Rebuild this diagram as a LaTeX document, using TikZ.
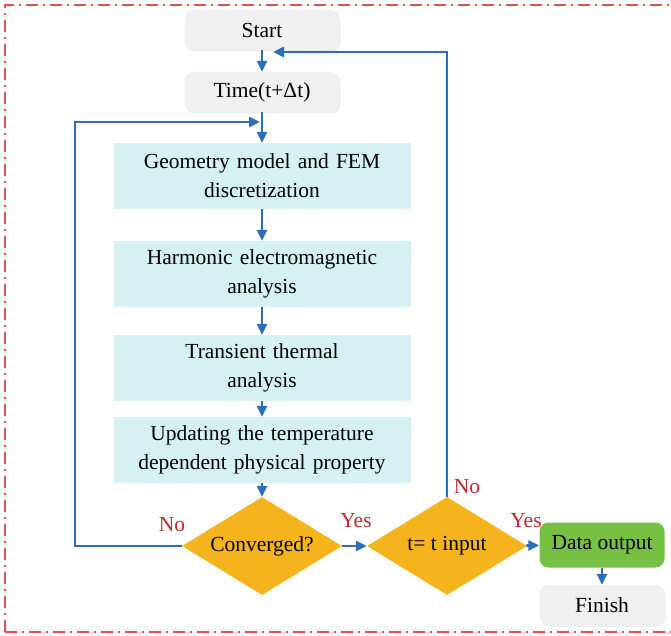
\documentclass[tikz,border=0pt]{standalone}
\usepackage{fontspec}
\setmainfont{Liberation Serif}
\usetikzlibrary{shapes.geometric,arrows.meta,shadows}
\definecolor{lineblue}{HTML}{2A6EBB}
\definecolor{boxcyan}{HTML}{D6F1F1}
\definecolor{termgray}{HTML}{F0F0F0}
\definecolor{diagold}{HTML}{F5B41E}
\definecolor{outgreen}{HTML}{78C043}
\definecolor{labred}{HTML}{C0282D}
\definecolor{frame}{HTML}{E85050}
\begin{document}
\begin{tikzpicture}[x=1pt,y=-1pt,
  every node/.style={font=\fontsize{21.5}{29}\selectfont},
  term/.style={rounded corners=9pt,fill=termgray,minimum width=155pt,minimum height=40pt,inner sep=0pt,drop shadow={opacity=0.15,shadow xshift=1pt,shadow yshift=-1.5pt}},
  proc/.style={fill=boxcyan,minimum width=297pt,minimum height=66pt,inner sep=0pt,align=center,text width=295pt},
  dec/.style={diamond,fill=diagold,minimum width=160pt,minimum height=98pt,inner sep=0pt,aspect=1.63},
  outbox/.style={rounded corners=9pt,fill=outgreen,minimum width=125pt,minimum height=45pt,inner sep=0pt},
  conn/.style={draw=lineblue,line width=2.8pt,-{Triangle[length=11pt,width=10pt]}},
  lab/.style={text=labred}]
\useasboundingbox (0,0) rectangle (671,636);
\draw[frame,line width=2pt,dash pattern=on 12pt off 5pt on 2pt off 5pt] (5,632) -- (5,5) -- (680,5);
\draw[frame,line width=2pt,dash pattern=on 12pt off 5pt on 2pt off 5pt] (5,632) -- (680,632);

\node[term] (start) at (262,30) {Start};
\node[term] (time) at (262,92) {Time(t+Δt)};
\node[proc] (geo) at (262,176) {Geometry model and FEM\\discretization};
\node[proc] (harm) at (262,274) {Harmonic electromagnetic\\analysis};
\node[proc] (trans) at (262,368) {Transient thermal\\analysis};
\node[proc] (upd) at (262,450) {Updating the temperature\\dependent physical property};
\node[dec] (conv) at (262,546) {Converged?};
\node[dec] (tin) at (447,546) {t= t input};
\node[outbox] (out) at (602,545) {Data output};
\node[term,minimum width=125pt] (fin) at (602,605) {Finish};

\coordinate (loopin) at (262,122);
\coordinate (topin) at (262,52);

\draw[conn] (start) -- (time);
\draw[conn] (time) -- (geo);
\draw[conn] (geo) -- (harm);
\draw[conn] (harm) -- (trans);
\draw[conn] (trans) -- (upd);
\draw[conn] (upd) -- (conv);
\draw[conn] (conv) -- (tin);
\draw[conn] (tin) -- (out);
\draw[conn] (out) -- (fin);
\draw[conn] (conv.west) -- (75,546) -- (75,122) -- ([xshift=-2pt]loopin);
\draw[conn] (tin.north) -- (447,52) -- ([xshift=11pt]topin);

\node[lab] (no1) at (172,525) {No};
\node[lab] (yes1) at (356,521) {Yes};
\node[lab] (yes2) at (526,521) {Yes};
\node[lab] (no2) at (467,487) {No};
\end{tikzpicture}
\end{document}
